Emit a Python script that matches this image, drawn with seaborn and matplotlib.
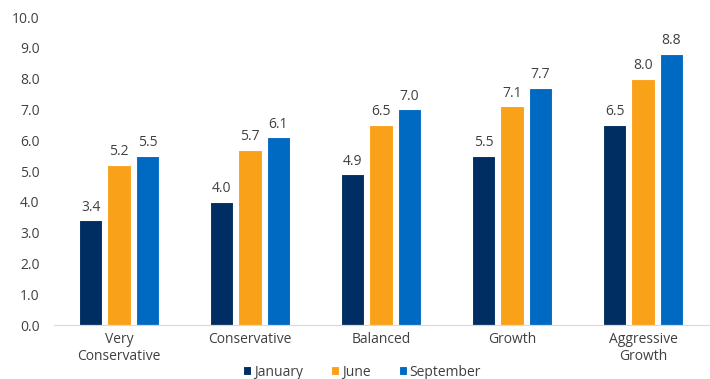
import pandas as pd
import matplotlib.pyplot as plt
import seaborn as sns

# Data
categories = ['Very\nConservative', 'Conservative', 'Balanced', 'Growth', 'Aggressive\nGrowth']
months = ['January', 'June', 'September']
january = [3.4, 4.0, 4.9, 5.5, 6.5]
june = [5.2, 5.7, 6.5, 7.1, 8.0]
september = [5.5, 6.1, 7.0, 7.7, 8.8]

df = pd.DataFrame({
    'category': categories * 3,
    'month': [m for m in months for _ in categories],
    'value': january + june + september,
})

colors = ['#002D62', '#FAA11A', '#006AC3']
text_color = '#404040'

sns.set_style('white')
plt.rcParams['font.family'] = ['Open Sans', 'DejaVu Sans']

fig = plt.figure(figsize=(7.1, 3.79), dpi=100)
ax = fig.add_axes([0.0755, 0.142, 0.9225, 0.813])

sns.barplot(data=df, x='category', y='value', hue='month', palette=colors,
            saturation=1, width=0.65, gap=0.17, edgecolor='white', linewidth=0.8,
            errorbar=None, ax=ax)

for c in ax.containers:
    ax.bar_label(c, fmt='%.1f', padding=4, fontsize=10, color=text_color)

ax.set_ylim(0, 10)
ax.set_yticks([i for i in range(11)])
ax.set_yticklabels([f'{i:.1f}' for i in range(11)])
ax.set_xlabel('')
ax.set_ylabel('')
ax.tick_params(axis='both', labelsize=10, colors=text_color, length=0)
ax.tick_params(axis='x', pad=5)
ax.tick_params(axis='y', pad=10)

sns.despine(ax=ax, left=True)
ax.spines['bottom'].set_color('#d9d9d9')

ax.legend_.remove()
handles, labels = ax.get_legend_handles_labels()
fig.legend(handles, labels, loc='lower center', bbox_to_anchor=(0.51, -0.035),
           ncol=3, frameon=False, fontsize=10, handlelength=0.6, handleheight=0.6,
           handletextpad=0.2, columnspacing=2.0, labelcolor=text_color)

fig.savefig('out.png', dpi=100)
